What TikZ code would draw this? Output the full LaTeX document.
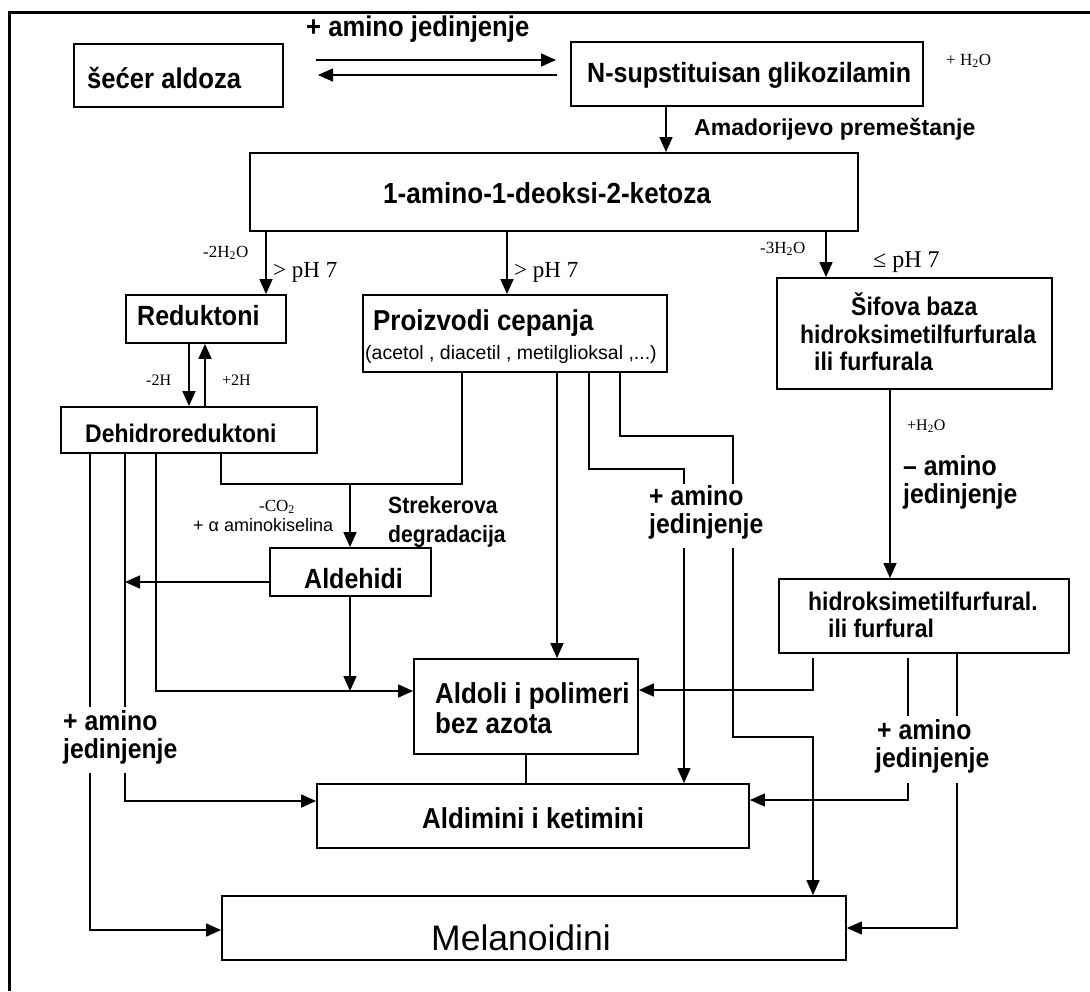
\documentclass[tikz,border=0pt]{standalone}
\usepackage{fontspec}
\usetikzlibrary{arrows.meta}
\newfontfamily\ars{Liberation Sans}
\newfontfamily\arn[FakeStretch=0.9]{Liberation Sans}
\newfontfamily\tms{Liberation Serif}
\newcommand\fsz[1]{\fontsize{#1}{#1}\selectfont}
\begin{document}
\begin{tikzpicture}[x=1pt,y=-1pt,
  box/.style={draw, line width=1.8pt, inner sep=0pt},
  ln/.style={line width=1.5pt},
  arr/.style={ln, -{Triangle[length=15pt,width=13pt]}},
  bt/.style={font=\arn\bfseries\fsz{#1}, anchor=base west, inner sep=0pt},
  bw/.style={font=\ars\bfseries\fsz{#1}, anchor=base west, inner sep=0pt},
  rt/.style={font=\ars\fsz{#1}, anchor=base west, inner sep=0pt},
  st/.style={font=\tms\fsz{#1}, anchor=base west, inner sep=0pt},
]
\useasboundingbox (0,0) rectangle (1090,991);
% frame
\coordinate (fr1) at (9.5,991); \coordinate (fr2) at (9.5,12); \coordinate (fr3) at (1090,12);
\draw[line width=3pt] (fr1) -- (fr2) -- (fr3);

% boxes
\node[box, minimum width=209pt, minimum height=63pt] (aldoza) at (178.5,75.5) {};
\node[box, minimum width=352pt, minimum height=64pt] (nsup) at (747,74) {};
\node[box, minimum width=608pt, minimum height=78pt] (keto) at (554,192) {};
\node[box, minimum width=160pt, minimum height=48pt] (redu) at (206,319) {};
\node[box, minimum width=304pt, minimum height=77pt] (proiz) at (515,333.5) {};
\node[box, minimum width=275pt, minimum height=111pt] (sif) at (914.5,333.5) {};
\node[box, minimum width=256pt, minimum height=46pt] (dehi) at (189,430) {};
\node[box, minimum width=161pt, minimum height=48pt] (aldeh) at (350.5,572) {};
\node[box, minimum width=290pt, minimum height=74pt] (hmf) at (924,616) {};
\node[box, minimum width=224pt, minimum height=95pt] (aldoli) at (526,706.5) {};
\node[box, minimum width=432pt, minimum height=64pt] (aldim) at (533,816) {};
\node[box, minimum width=624pt, minimum height=64pt] (mel) at (534,928) {};

% texts
\node[bt=28.5] (tald) at (87,88) {šećer aldoza};
\node[bt=27.8] (tns) at (587,82) {N-supstituisan glikozilamin};
\node[bt=28.5] (tam1) at (306,36) {+ amino jedinjenje};
\node[st=17] (th2o1) at (946,65) {+ H\textsubscript{2}O};
\node[bw=23] (tamad) at (694,135) {Amadorijevo premeštanje};
\node[bt=29] (tketo) at (383,203) {1-amino-1-deoksi-2-ketoza};
\node[st=17] (t2h2o) at (203,257) {-2H\textsubscript{2}O};
\node[st=23] (tph1) at (273,277) {> pH 7};
\node[st=23] (tph2) at (514,277) {> pH 7};
\node[st=17] (t3h2o) at (760,253) {-3H\textsubscript{2}O};
\node[st=24] (tph3) at (873,267) {≤ pH 7};
\node[bt=27.8] (tred) at (137,325) {Reduktoni};
\node[bt=28.8] (tpro) at (373,330) {Proizvodi cepanja};
\node[rt=19.5] (tace) at (365,359) {(acetol , diacetil , metilglioksal ,...)};
\node[st=16] (tm2h) at (146,385) {-2H};
\node[st=16] (tp2h) at (222,385) {+2H};
\node[bt=25.5] (tdeh) at (85,442) {Dehidroreduktoni};
\node[bt=25.5] (tsif1) at (851,315) {Šifova baza};
\node[bt=25.5] (tsif2) at (800,343) {hidroksimetilfurfurala};
\node[bt=25.5] (tsif3) at (814,370) {ili furfurala};
\node[st=17] (tco2) at (259,511) {-CO\textsubscript{2}};
\node[rt=18] (tamk) at (193,531) {+ α aminokiselina};
\node[bt=23.5] (tstr1) at (388,513) {Strekerova};
\node[bt=23.5] (tstr2) at (388,542) {degradacija};
\node[bt=27.8] (talh) at (304,588) {Aldehidi};
\node[st=16] (th2o2) at (907,430) {+H\textsubscript{2}O};
\node[bt=27.5] (tma1) at (903,475) {– amino};
\node[bt=27.5] (tma2) at (903,503) {jedinjenje};
\node[bt=25.5] (thmf1) at (808,610) {hidroksimetilfurfural.};
\node[bt=25.5] (thmf2) at (828,637) {ili furfural};
\node[bt=27.5] (tpa1) at (649,505) {+ amino};
\node[bt=27.5] (tpa2) at (649,533) {jedinjenje};
\node[bt=27.5] (tla1) at (63,730) {+ amino};
\node[bt=27.5] (tla2) at (63,758) {jedinjenje};
\node[bt=27.5] (tra1) at (877,739) {+ amino};
\node[bt=27.5] (tra2) at (875,767) {jedinjenje};
\node[bt=28.8] (tald1) at (435,703) {Aldoli i polimeri};
\node[bt=28.8] (tald2) at (435,733) {bez azota};
\node[bt=28.8] (taldim) at (422,828) {Aldimini i ketimini};
\node[rt=35.5] (tmel) at (431,950) {Melanoidini};

% named free points
\coordinate (fa) at (316,60); \coordinate (fb) at (556,60);
\coordinate (ra) at (557,75); \coordinate (rb) at (318,75);
\coordinate (j1) at (350,484);
\coordinate (p1) at (684,469); \coordinate (p1e) at (684,484); \coordinate (p1s) at (684,548);
\coordinate (p2) at (733,436); \coordinate (p2e) at (733,484); \coordinate (p2s) at (733,548);
\coordinate (p2k) at (813,737);
\coordinate (l1e) at (90,707); \coordinate (l1s) at (90,773);
\coordinate (l2e) at (125,707); \coordinate (l2s) at (125,773);
\coordinate (l2a) at (125,582);
\coordinate (j2) at (350,691);
\coordinate (h1s) at (813,658);
\coordinate (h2s) at (908,658); \coordinate (h2e) at (908,716); \coordinate (h2r) at (908,783);
\coordinate (h3e) at (957,716); \coordinate (h3r) at (957,783);

% connectors
\draw[arr] (fa) -- (fb);
\draw[arr] (ra) -- (rb);
\draw[arr] (nsup.south -| 666,0) -- (keto.north -| 666,0);
\draw[arr] (keto.south -| 266,0) -- (redu.north -| 266,0);
\draw[arr] (keto.south -| 507,0) -- (proiz.north -| 507,0);
\draw[arr] (keto.south -| 826,0) -- (sif.north -| 826,0);
\draw[arr] (redu.south -| 189,0) -- (dehi.north -| 189,0);
\draw[arr] (dehi.north -| 205,0) -- (redu.south -| 205,0);
\draw[ln] (dehi.south -| 221,0) |- (j1) -| (proiz.south -| 462,0);
\draw[arr] (j1) -- (aldeh.north -| j1);
\draw[arr] (proiz.south -| 557,0) -- (aldoli.north -| 557,0);
\draw[ln] (proiz.south -| 589,0) |- (p1) -- (p1e);
\draw[arr] (p1s) -- (aldim.north -| p1s);
\draw[ln] (proiz.south -| 620,0) |- (p2) -- (p2e);
\draw[arr] (p2s) |- (p2k) -- (mel.north -| p2k);
\draw[ln] (dehi.south -| l1e) -- (l1e);
\draw[arr] (l1s) |- (mel.west |- 0,930);
\draw[ln] (dehi.south -| l2e) -- (l2e);
\draw[arr] (l2s) |- (aldim.west |- 0,801);
\draw[arr] (dehi.south -| 156,0) |- (aldoli.west |- 0,691);
\draw[arr] (aldeh.west |- l2a) -- (l2a);
\draw[arr] (aldeh.south -| j2) -- (j2);
\draw[arr] (sif.south -| 890,0) -- (hmf.north -| 890,0);
\draw[arr] (h1s) |- (aldoli.east |- 0,690);
\draw[ln] (h2s) -- (h2e);
\draw[arr] (h2r) |- (aldim.east |- 0,800);
\draw[ln] (hmf.south -| h3e) -- (h3e);
\draw[arr] (h3r) |- (mel.east |- 0,928);
\draw[ln] (aldoli.south -| 526,0) -- (aldim.north -| 526,0);
\end{tikzpicture}
\end{document}
